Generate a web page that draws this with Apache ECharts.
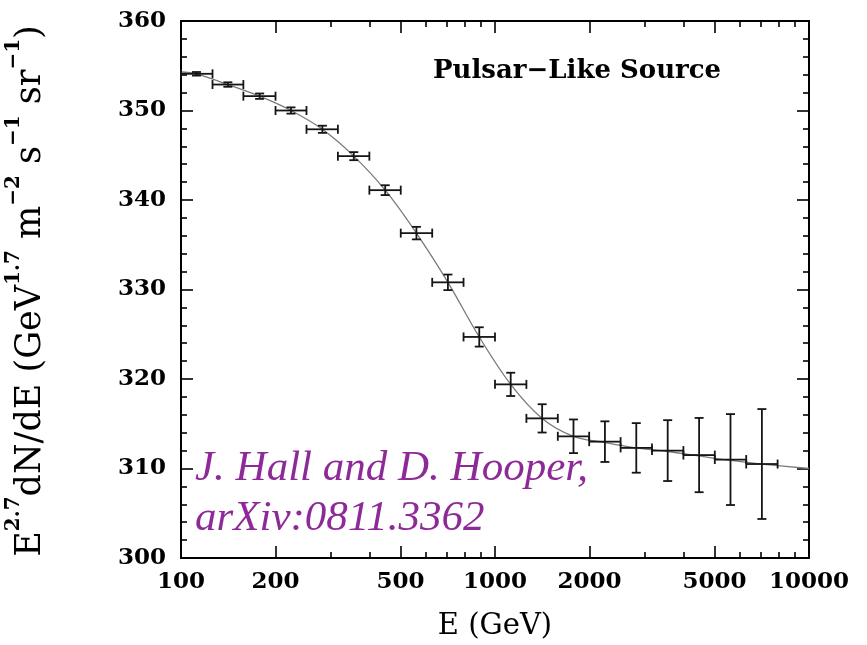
<!DOCTYPE html>
<html>
<head>
<meta charset="utf-8">
<script src="https://cdn.jsdelivr.net/npm/echarts@6/dist/echarts.min.js"></script>
<style>
  html, body { margin: 0; padding: 0; background: #fff; }
  #chart { width: 867px; height: 645px; }
</style>
</head>
<body>
<div id="chart"></div>
<script>
// pulsar-like source spectrum, E^2.7 dN/dE vs E

// data points (GeV) and their bins
const energy = [112, 141, 178, 224, 282, 355, 447, 562, 708, 891, 1122, 1413, 1778, 2239, 2818, 3548, 4467, 5623, 7079]
const energyLow = [100, 126, 158, 200, 251, 316, 398, 501, 631, 794, 1000, 1259, 1585, 1995, 2512, 3162, 3981, 5012, 6310]
const energyHigh = [126, 158, 200, 251, 316, 398, 501, 631, 794, 1000, 1259, 1585, 1995, 2512, 3162, 3981, 5012, 6310, 7943]
const flux = [354.1, 352.9, 351.6, 350.0, 347.9, 344.9, 341.1, 336.3, 330.8, 324.7, 319.4, 315.6, 313.6, 313.0, 312.3, 312.0, 311.5, 311.0, 310.5]
const fluxErr = [0.2, 0.25, 0.3, 0.35, 0.4, 0.45, 0.55, 0.7, 0.87, 1.08, 1.3, 1.58, 1.88, 2.27, 2.77, 3.4, 4.15, 5.08, 6.14]

// model curve
const fitEnergy = [100, 112, 141, 178, 224, 282, 355, 447, 562, 708, 891, 1122, 1413, 1778, 2239, 2818, 3548, 4467, 5623, 7079, 10000]
const fitFlux = [354.3, 354.1, 352.9, 351.6, 350.0, 347.9, 344.9, 341.1, 336.3, 330.8, 324.7, 319.4, 315.6, 313.6, 312.9, 312.3, 311.9, 311.4, 310.9, 310.5, 310.0]

// tick labels
const xLabels = [100, 200, 500, 1000, 2000, 5000, 10000]
const xMajorTicks = [100, 200, 500, 1000, 2000, 5000, 10000]
const xMinorTicks = [300, 400, 600, 700, 800, 900, 3000, 4000, 6000, 7000, 8000, 9000]

const lg = v => Math.log10(v)
const serif = 'DejaVu Serif'

const chart = echarts.init(document.getElementById('chart'))

const xBase = {
  type: 'value',
  min: 2,
  max: 4,
  splitLine: { show: false },
  axisLine: { show: true, lineStyle: { color: '#000', width: 2 } }
}

const yBase = {
  type: 'value',
  min: 300,
  max: 360,
  interval: 10,
  splitLine: { show: false },
  axisLine: { show: true, lineStyle: { color: '#000', width: 2 } },
  axisTick: { show: true, inside: true, length: 12, lineStyle: { color: '#000', width: 1.6 } },
  minorTick: { show: true, splitNumber: 5, length: 6, lineStyle: { color: '#000', width: 1.6 } }
}

const majorTick = { show: true, inside: true, length: 12, customValues: xMajorTicks.map(lg), lineStyle: { color: '#000', width: 1.6 } }
const minorTick = { show: true, inside: true, length: 6, customValues: xMinorTicks.map(lg), lineStyle: { color: '#000', width: 1.6 } }

const option = {
  animation: false,
  backgroundColor: '#fff',
  // keep the plot box fixed, labels may sit near the edge
  grid: { left: 181, right: 58, top: 21, bottom: 87, containLabel: false, outerBoundsMode: 'none' },
  xAxis: [
    Object.assign({}, xBase, {
      position: 'bottom',
      axisTick: majorTick,
      axisLabel: {
        show: true,
        customValues: xLabels.map(lg),
        formatter: v => String(Math.round(Math.pow(10, v))),
        color: '#000',
        fontFamily: serif,
        fontWeight: 'bold',
        fontSize: 23,
        margin: 13
      },
      name: 'E (GeV)',
      nameLocation: 'middle',
      nameGap: 54,
      nameTextStyle: { color: '#000', fontFamily: serif, fontSize: 29 }
    }),
    Object.assign({}, xBase, { position: 'bottom', axisTick: minorTick, axisLabel: { show: false } }),
    Object.assign({}, xBase, { position: 'top', axisTick: majorTick, axisLabel: { show: false } }),
    Object.assign({}, xBase, { position: 'top', axisTick: minorTick, axisLabel: { show: false } })
  ],
  yAxis: [
    Object.assign({}, yBase, {
      position: 'left',
      axisLabel: { color: '#000', fontFamily: serif, fontWeight: 'bold', fontSize: 23, margin: 15 }
    }),
    Object.assign({}, yBase, { position: 'right', axisLabel: { show: false } })
  ],
  graphic: [
    {
      type: 'text',
      x: 26,
      y: 291,
      rotation: Math.PI / 2,
      style: {
        text: '{b|E}{s|2.7}{b|dN/dE (GeV}{s|1.7}{b| m}{s|−2}{b| s}{s|−1}{b| sr}{s|−1}{b|)}',
        align: 'center',
        verticalAlign: 'middle',
        rich: {
          b: { fontFamily: serif, fontSize: 35, color: '#000', lineHeight: 44, verticalAlign: 'bottom' },
          s: { fontFamily: serif, fontWeight: 'bold', fontSize: 20, color: '#000', lineHeight: 44, verticalAlign: 'top' }
        }
      }
    },
    {
      type: 'text',
      left: 433,
      top: 58,
      style: { text: 'Pulsar−Like Source', fontFamily: serif, fontWeight: 'bold', fontSize: 26, fill: '#000' }
    },
    {
      type: 'text',
      left: 195,
      top: 444,
      style: {
        text: 'J. Hall and D. Hooper,\narXiv:0811.3362',
        fontFamily: 'Liberation Serif',
        fontStyle: 'italic',
        fontSize: 43,
        lineHeight: 50,
        fill: '#8e2a97'
      }
    }
  ],
  series: [
    {
      name: 'model',
      type: 'line',
      xAxisIndex: 0,
      yAxisIndex: 0,
      data: fitEnergy.map((e, i) => [lg(e), fitFlux[i]]),
      showSymbol: false,
      smooth: 0.35,
      lineStyle: { color: '#7a7a7a', width: 1.3 },
      z: 2
    },
    {
      name: 'data',
      type: 'custom',
      xAxisIndex: 0,
      yAxisIndex: 0,
      data: energy.map((e, i) => [lg(e), flux[i], lg(energyLow[i]), lg(energyHigh[i]), flux[i] - fluxErr[i], flux[i] + fluxErr[i]]),
      encode: { x: [0, 2, 3], y: [1, 4, 5] },
      z: 3,
      renderItem: (params, api) => {
        const c = api.coord([api.value(0), api.value(1)])
        const l = api.coord([api.value(2), api.value(1)])
        const r = api.coord([api.value(3), api.value(1)])
        const lo = api.coord([api.value(0), api.value(4)])
        const hi = api.coord([api.value(0), api.value(5)])
        const cap = 4.5
        const style = { stroke: '#151515', lineWidth: 1.8 }
        const line = (x1, y1, x2, y2) => ({ type: 'line', shape: { x1, y1, x2, y2 }, style })
        return {
          type: 'group',
          children: [
            line(l[0], c[1], r[0], c[1]),
            line(l[0], c[1] - cap, l[0], c[1] + cap),
            line(r[0], c[1] - cap, r[0], c[1] + cap),
            line(c[0], hi[1], c[0], lo[1]),
            line(c[0] - cap, hi[1], c[0] + cap, hi[1]),
            line(c[0] - cap, lo[1], c[0] + cap, lo[1])
          ]
        }
      }
    }
  ]
}

chart.setOption(option)
</script>
</body>
</html>
